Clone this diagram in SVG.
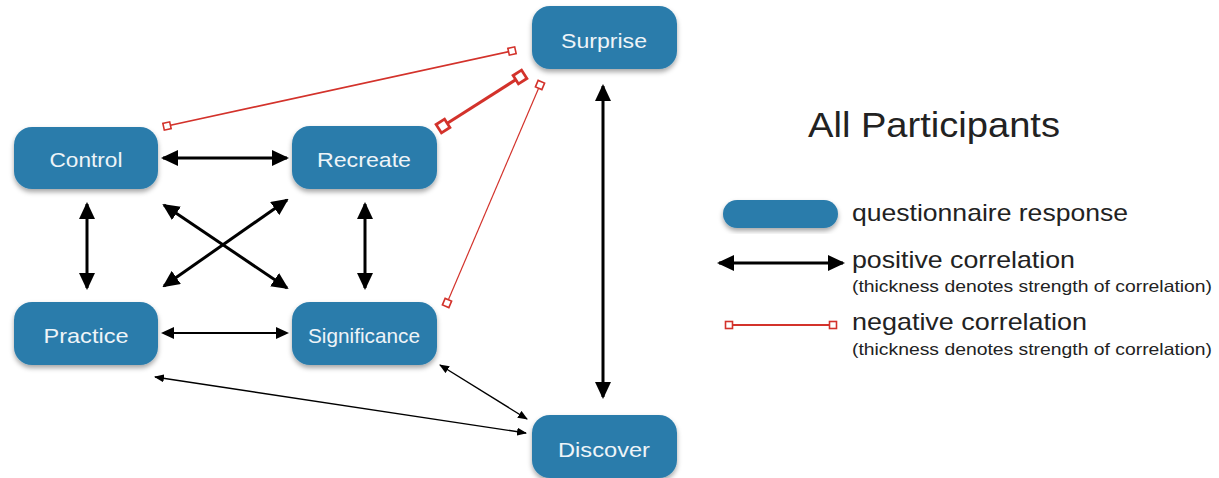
<svg xmlns="http://www.w3.org/2000/svg" width="1219" height="478" viewBox="0 0 1219 478">
<style>
.node rect{fill:#2a7cab;}
.node text{fill:#eef4f8;font-family:"Liberation Sans",Arial,sans-serif;font-size:21px;text-anchor:middle;}
.pos{stroke:#000;fill:none;}
.neg{stroke:#d3322b;fill:none;}
.lg{fill:#222;font-family:"Liberation Sans",Arial,sans-serif;}
</style>
<defs>
<filter id="sh" x="-10%" y="-10%" width="120%" height="130%">
<feDropShadow dx="0" dy="3" stdDeviation="2.5" flood-color="#000" flood-opacity="0.35"/>
</filter>
<marker id="hb" markerUnits="userSpaceOnUse" viewBox="0 0 17 16" markerWidth="17" markerHeight="16" refX="15" refY="8" orient="auto-start-reverse"><path d="M0,0 L17,8 L0,16 z" fill="#000"/></marker>
<marker id="hm" markerUnits="userSpaceOnUse" viewBox="0 0 13 12" markerWidth="13" markerHeight="12" refX="11" refY="6" orient="auto-start-reverse"><path d="M0,0 L13,6 L0,12 z" fill="#000"/></marker>
<marker id="hs" markerUnits="userSpaceOnUse" viewBox="0 0 10 8" markerWidth="10" markerHeight="8" refX="9" refY="4" orient="auto-start-reverse"><path d="M0,0 L10,4 L0,8 z" fill="#000"/></marker>
<marker id="sq" markerUnits="userSpaceOnUse" viewBox="0 0 10 10" markerWidth="10" markerHeight="10" refX="5" refY="5" orient="auto"><rect x="1.5" y="1.5" width="7" height="7" fill="#fff" stroke="#d3322b" stroke-width="1.6"/></marker>
<marker id="sqb" markerUnits="userSpaceOnUse" viewBox="0 0 14 14" markerWidth="14" markerHeight="14" refX="7" refY="7" orient="auto"><rect x="2" y="2" width="10" height="10" fill="#fff" stroke="#d3322b" stroke-width="2.8"/></marker>
</defs>
<rect width="1219" height="478" fill="#fff"/>
<g id="connectors">
<line class="pos" x1="163" y1="158" x2="287" y2="158" stroke-width="3" marker-start="url(#hb)" marker-end="url(#hb)"/>
<line class="pos" x1="87" y1="204" x2="87" y2="288" stroke-width="3" marker-start="url(#hb)" marker-end="url(#hb)"/>
<line class="pos" x1="365" y1="204" x2="365" y2="288" stroke-width="3" marker-start="url(#hb)" marker-end="url(#hb)"/>
<line class="pos" x1="164" y1="205" x2="287" y2="288" stroke-width="3" marker-start="url(#hb)" marker-end="url(#hb)"/>
<line class="pos" x1="287" y1="200" x2="164" y2="286" stroke-width="3" marker-start="url(#hb)" marker-end="url(#hb)"/>
<line class="pos" x1="163" y1="333" x2="287" y2="333" stroke-width="2" marker-start="url(#hm)" marker-end="url(#hm)"/>
<line class="pos" x1="603" y1="86" x2="603" y2="397" stroke-width="3" marker-start="url(#hb)" marker-end="url(#hb)"/>
<line class="pos" x1="155" y1="377" x2="526" y2="433" stroke-width="1.4" marker-start="url(#hs)" marker-end="url(#hs)"/>
<line class="pos" x1="440" y1="365" x2="527" y2="419" stroke-width="1.4" marker-start="url(#hs)" marker-end="url(#hs)"/>
<line class="neg" x1="167" y1="126" x2="512" y2="51" stroke-width="1.6" marker-start="url(#sq)" marker-end="url(#sq)"/>
<line class="neg" x1="443" y1="126" x2="520" y2="77" stroke-width="3" marker-start="url(#sqb)" marker-end="url(#sqb)"/>
<line class="neg" x1="447" y1="303" x2="540" y2="85" stroke-width="1.2" marker-start="url(#sq)" marker-end="url(#sq)"/>
</g>
<g id="control" class="node"><rect x="14" y="127" width="144" height="62" rx="18" filter="url(#sh)"/><text x="86" y="167" textLength="73" lengthAdjust="spacingAndGlyphs">Control</text></g>
<g id="recreate" class="node"><rect x="292" y="126" width="145" height="63" rx="18" filter="url(#sh)"/><text x="364" y="167" textLength="94" lengthAdjust="spacingAndGlyphs">Recreate</text></g>
<g id="practice" class="node"><rect x="14" y="302" width="144" height="63" rx="18" filter="url(#sh)"/><text x="86" y="343" textLength="85" lengthAdjust="spacingAndGlyphs">Practice</text></g>
<g id="significance" class="node"><rect x="292" y="302" width="145" height="63" rx="18" filter="url(#sh)"/><text x="364" y="343" textLength="112" lengthAdjust="spacingAndGlyphs">Significance</text></g>
<g id="surprise" class="node"><rect x="532" y="6" width="145" height="63" rx="18" filter="url(#sh)"/><text x="604" y="48" textLength="86" lengthAdjust="spacingAndGlyphs">Surprise</text></g>
<g id="discover" class="node"><rect x="532" y="415" width="145" height="63" rx="18" filter="url(#sh)"/><text x="604" y="457" textLength="92" lengthAdjust="spacingAndGlyphs">Discover</text></g>
<g id="legend">
<text class="lg" x="808" y="137" font-size="35" textLength="252" lengthAdjust="spacingAndGlyphs">All Participants</text>
<rect x="723" y="200" width="115" height="28" rx="14" fill="#2a7cab" filter="url(#sh)"/>
<text class="lg" x="852" y="221" font-size="24" textLength="276" lengthAdjust="spacingAndGlyphs">questionnaire response</text>
<line class="pos" x1="719" y1="263" x2="843" y2="263" stroke-width="3" marker-start="url(#hb)" marker-end="url(#hb)"/>
<text class="lg" x="852" y="268" font-size="24" textLength="223" lengthAdjust="spacingAndGlyphs">positive correlation</text>
<text class="lg" x="852" y="292" font-size="16.5" textLength="360" lengthAdjust="spacingAndGlyphs">(thickness denotes strength of correlation)</text>
<line class="neg" x1="729" y1="325" x2="833" y2="325" stroke-width="1.8" marker-start="url(#sq)" marker-end="url(#sq)"/>
<text class="lg" x="852" y="330" font-size="24" textLength="235" lengthAdjust="spacingAndGlyphs">negative correlation</text>
<text class="lg" x="852" y="355" font-size="16.5" textLength="360" lengthAdjust="spacingAndGlyphs">(thickness denotes strength of correlation)</text>
</g>
</svg>
